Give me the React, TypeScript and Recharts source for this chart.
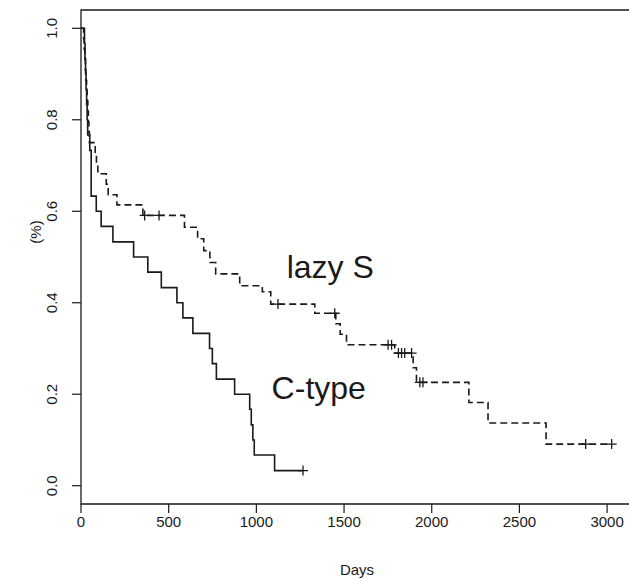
import React from 'react';
import { ComposedChart, Line, Scatter, XAxis, YAxis, ReferenceArea, ReferenceDot } from 'recharts';

// C-type survival curve (step times in days, survival proportion)
const cTypeDays = [0, 20, 23, 26, 29, 32, 35, 38, 50, 58, 87, 115, 182, 300, 381, 458, 547, 581, 638, 733, 749, 772, 876, 962, 971, 980, 988, 1104, 1266];
const cTypeSurv = [1, 0.967, 0.933, 0.9, 0.867, 0.833, 0.8, 0.767, 0.733, 0.633, 0.6, 0.567, 0.533, 0.5, 0.467, 0.433, 0.4, 0.367, 0.333, 0.3, 0.267, 0.233, 0.2, 0.167, 0.133, 0.1, 0.067, 0.033, 0.033];
const cTypeCensorDays = [1266];

// lazy S survival curve
const lazyDays = [0, 15, 18, 22, 25, 28, 32, 35, 39, 42, 45, 48, 81, 88, 96, 144, 155, 205, 353, 590, 665, 700, 735, 768, 905, 1034, 1082, 1333, 1453, 1478, 1514, 1789, 1894, 1913, 2212, 2321, 2652, 3026];
const lazySurv = [1, 0.977, 0.955, 0.932, 0.909, 0.886, 0.864, 0.841, 0.818, 0.795, 0.773, 0.75, 0.727, 0.705, 0.682, 0.659, 0.636, 0.614, 0.591, 0.565, 0.54, 0.514, 0.488, 0.463, 0.437, 0.424, 0.397, 0.377, 0.354, 0.331, 0.308, 0.29, 0.258, 0.226, 0.182, 0.137, 0.091, 0.091];
const lazyCensorDays = [363, 445, 1123, 1447, 1751, 1771, 1810, 1828, 1846, 1885, 1932, 1950, 2878, 3026];

const xTicks = [0, 500, 1000, 1500, 2000, 2500, 3000];
const yTicks = [0, 0.2, 0.4, 0.6, 0.8, 1.0];
const yTickLabels = ['0.0', '0.2', '0.4', '0.6', '0.8', '1.0'];

const X_MAX = 3142;
const Y_MIN = -0.04;
const Y_MAX = 1.04;

const FONT = '"Liberation Sans", Arial, Helvetica, sans-serif';
const INK = '#1a1a1a';

const stepValue = (days: number[], surv: number[], t: number) => {
  let v = surv[0];
  for (let i = 0; i < days.length; i++) {
    if (days[i] <= t) v = surv[i];
  }
  return v;
};

const cTypeData = cTypeDays.map((d, i) => ({ day: d, s: cTypeSurv[i] }));
const lazyData = lazyDays.map((d, i) => ({ day: d, s: lazySurv[i] }));
const cTypeCensor = cTypeCensorDays.map((d) => ({ day: d, s: stepValue(cTypeDays, cTypeSurv, d) }));
const lazyCensor = lazyCensorDays.map((d) => ({ day: d, s: stepValue(lazyDays, lazySurv, d) }));

const Plus = (props: any) => {
  const { cx, cy } = props;
  if (cx == null || cy == null) return null;
  return (
    <path
      d={`M${cx - 5},${cy}H${cx + 5}M${cx},${cy - 5}V${cy + 5}`}
      stroke={INK}
      strokeWidth={1.3}
      fill="none"
    />
  );
};

const XTick = (props: any) => {
  const { x, y, payload } = props;
  return (
    <text x={x} y={y + 14} textAnchor="middle" fontFamily={FONT} fontSize={15} fill={INK}>
      {payload.value}
    </text>
  );
};

const YTick = (props: any) => {
  const { x, y, payload } = props;
  const idx = yTicks.indexOf(payload.value);
  const lbl = idx >= 0 ? yTickLabels[idx] : String(payload.value);
  const bx = x - 15;
  return (
    <text
      x={bx}
      y={y}
      transform={`rotate(-90 ${bx} ${y})`}
      textAnchor="middle"
      fontFamily={FONT}
      fontSize={15}
      fill={INK}
    >
      {lbl}
    </text>
  );
};

const AnnoText = (text: string) => (props: any) => {
  const { cx, cy } = props;
  return (
    <text x={cx} y={cy} fontFamily={FONT} fontSize={32} fill={INK} textAnchor="start">
      {text}
    </text>
  );
};

export default function App() {
  return (
    <div style={{ position: 'absolute', left: 0, top: 0, width: 629, height: 580, overflow: 'hidden', background: '#fff' }}>
      <ComposedChart width={640} height={580} margin={{ top: 10, right: 8, bottom: 0, left: 0 }}>
        <XAxis
          dataKey="day"
          type="number"
          domain={[0, X_MAX]}
          ticks={xTicks}
          interval={0}
          allowDataOverflow
          height={76}
          axisLine={false}
          tickSize={9}
          tickMargin={0}
          tickLine={{ stroke: INK, strokeWidth: 1.2 }}
          tick={<XTick />}
          label={{
            content: () => (
              <text x={357} y={575} textAnchor="middle" fontFamily={FONT} fontSize={15} fill={INK}>
                Days
              </text>
            ),
          }}
        />
        <YAxis
          type="number"
          domain={[Y_MIN, Y_MAX]}
          ticks={yTicks}
          interval={0}
          allowDataOverflow
          width={81}
          axisLine={false}
          tickSize={9}
          tickMargin={0}
          tickLine={{ stroke: INK, strokeWidth: 1.2 }}
          tick={<YTick />}
          label={{
            content: () => (
              <text
                x={41}
                y={232}
                transform="rotate(-90 41 232)"
                textAnchor="middle"
                fontFamily={FONT}
                fontSize={15}
                fill={INK}
              >
                (%)
              </text>
            ),
          }}
        />
        <ReferenceArea
          x1={0}
          x2={X_MAX}
          y1={Y_MIN}
          y2={Y_MAX}
          fill="none"
          fillOpacity={0}
          stroke={INK}
          strokeWidth={1.3}
          strokeOpacity={1}
        />
        <Line
          data={lazyData}
          dataKey="s"
          type="stepAfter"
          stroke={INK}
          strokeWidth={1.6}
          strokeDasharray="7 4"
          dot={false}
          activeDot={false}
          isAnimationActive={false}
        />
        <Line
          data={cTypeData}
          dataKey="s"
          type="stepAfter"
          stroke={INK}
          strokeWidth={1.6}
          dot={false}
          activeDot={false}
          isAnimationActive={false}
        />
        <Scatter data={lazyCensor} dataKey="s" shape={<Plus />} isAnimationActive={false} />
        <Scatter data={cTypeCensor} dataKey="s" shape={<Plus />} isAnimationActive={false} />
        <ReferenceDot x={1173} y={0.4534} r={0} shape={AnnoText('lazy S')} />
        <ReferenceDot x={1087} y={0.189} r={0} shape={AnnoText('C-type')} />
      </ComposedChart>
    </div>
  );
}
